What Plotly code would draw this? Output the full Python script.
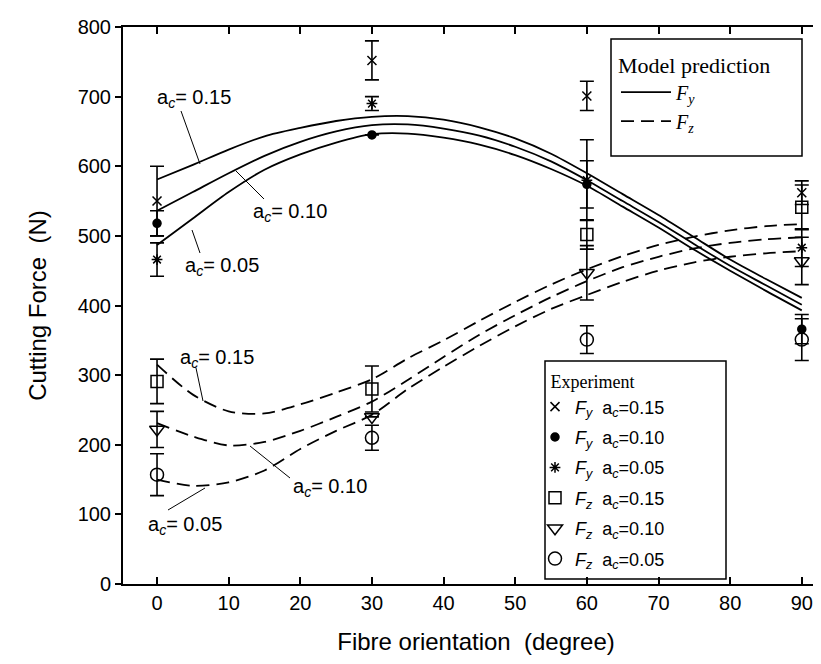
import plotly.graph_objects as go

# ---------------- data ----------------
angle_model = [0, 5, 10, 15, 20, 25, 30, 35, 40, 45, 50, 55, 60, 65, 70, 75, 80, 85, 90]
fy_model_015 = [581, 602, 624, 643, 655, 665, 671, 672, 667, 656, 640, 618, 590, 560, 530, 498, 466, 438, 411]
fy_model_010 = [536, 563, 590, 615, 635, 650, 659, 660, 654, 644, 628, 607, 580, 550, 520, 488, 457, 429, 401]
fy_model_005 = [487, 525, 563, 595, 617, 634, 646, 647, 641, 631, 616, 596, 572, 542, 512, 480, 450, 421, 393]
fz_model_015 = [315, 272, 248, 245, 258, 275, 294, 324, 350, 378, 405, 430, 452, 471, 487, 499, 508, 514, 517]
fz_model_010 = [231, 212, 199, 204, 220, 240, 262, 293, 326, 358, 386, 412, 435, 455, 470, 482, 490, 495, 498]
fz_model_005 = [150, 141, 146, 163, 194, 220, 243, 280, 312, 342, 370, 395, 415, 434, 450, 462, 470, 475, 478]

angle_exp = [0, 30, 60, 90]
fy_exp_015 = [550, 752, 701, 562]
fy_err_015 = [50, 28, 21, 17]
fy_exp_010 = [518, 645, 574, 366]
fy_err_010 = [18, 0, 34, 21]
fy_exp_005 = [466, 690, 580, 483]
fy_err_005 = [24, 10, 58, 27]
fz_exp_015 = [291, 280, 502, 541]
fz_err_015 = [32, 33, 21, 32]
fz_exp_010 = [222, 240, 447, 464]
fz_err_010 = [26, 0, 39, 34]
fz_exp_005 = [157, 210, 351, 351]
fz_err_005 = [30, 18, 20, 30]

x_ticks = [0, 10, 20, 30, 40, 50, 60, 70, 80, 90]
y_ticks = [0, 100, 200, 300, 400, 500, 600, 700, 800]

# ---------------- layout helpers ----------------
W, H = 821, 664
L, R, T, B = 115, 0, 19, 88
PW, PH = W - L - R, H - T - B


def px(xp):
    return (xp - L) / PW


def py(yp):
    return (H - B - yp) / PH


SANS = "Arial, Liberation Sans, Helvetica, sans-serif"
SERIF = "Times New Roman, Liberation Serif, serif"

fig = go.Figure()

# model curves
for name, ys, dash, show in [
    ("<i>F<sub>y</sub></i>", fy_model_015, "solid", True),
    ("Fy010", fy_model_010, "solid", False),
    ("Fy005", fy_model_005, "solid", False),
    ("<i>F<sub>z</sub></i>", fz_model_015, "13px,7px", True),
    ("Fz010", fz_model_010, "13px,7px", False),
    ("Fz005", fz_model_005, "13px,7px", False),
]:
    fig.add_trace(go.Scatter(
        x=angle_model, y=ys, mode="lines", name=name,
        line=dict(color="black", width=1.8, dash=dash, shape="spline", smoothing=0.8),
        showlegend=show, legend="legend", legendgroup=name,
    ))

# experimental points
exp_series = [
    ("<i>F<sub>y</sub></i>  a<sub><i>c</i></sub>=0.15", fy_exp_015, fy_err_015, "x-thin-open", 9),
    ("<i>F<sub>y</sub></i>  a<sub><i>c</i></sub>=0.10", fy_exp_010, fy_err_010, "circle", 8),
    ("<i>F<sub>y</sub></i>  a<sub><i>c</i></sub>=0.05", fy_exp_005, fy_err_005, "asterisk-open", 9),
    ("<i>F<sub>z</sub></i>  a<sub><i>c</i></sub>=0.15", fz_exp_015, fz_err_015, "square-open", 12),
    ("<i>F<sub>z</sub></i>  a<sub><i>c</i></sub>=0.10", fz_exp_010, fz_err_010, "triangle-down-open", 13),
    ("<i>F<sub>z</sub></i>  a<sub><i>c</i></sub>=0.05", fz_exp_005, fz_err_005, "circle-open", 13),
]
for i, (name, ys, err, sym, size) in enumerate(exp_series):
    fig.add_trace(go.Scatter(
        x=angle_exp, y=ys, mode="markers", name=name,
        marker=dict(symbol=sym, size=size, color="black", line=dict(color="black", width=1.5)),
        error_y=dict(type="data", array=err, visible=True, color="black", thickness=1.6, width=7),
        legend="legend2", legendgroup="e%d" % i,
    ))

# a_c labels with leader lines
labels = [
    (147, 90, (173, 103), (192, 156), "a<sub><i>c</i></sub>= 0.15"),
    (243, 204, (228, 163), (256, 191), "a<sub><i>c</i></sub>= 0.10"),
    (175, 258, (184, 222), (192, 245), "a<sub><i>c</i></sub>= 0.05"),
    (170, 350, (188, 360), (195, 393), "a<sub><i>c</i></sub>= 0.15"),
    (283, 480, (242, 438), (282, 470), "a<sub><i>c</i></sub>= 0.10"),
    (138, 517, (160, 502), (197, 480), "a<sub><i>c</i></sub>= 0.05"),
]
annotations = []
shapes = []
for lx, ly, p0, p1, txt in labels:
    annotations.append(dict(
        x=px(lx), y=py(ly), xref="paper", yref="paper", text=txt, showarrow=False,
        xanchor="left", yanchor="middle", font=dict(family=SANS, size=20, color="black"),
    ))
    shapes.append(dict(
        type="line", xref="paper", yref="paper",
        x0=px(p0[0]), y0=py(p0[1]), x1=px(p1[0]), y1=py(p1[1]),
        line=dict(color="black", width=1),
    ))

# legend frames
for x0, y0, x1, y1 in [(603, 31, 794, 148), (537, 353, 718, 571)]:
    shapes.append(dict(
        type="rect", xref="paper", yref="paper",
        x0=px(x0), y0=py(y1), x1=px(x1), y1=py(y0),
        line=dict(color="black", width=1.5), fillcolor="rgba(0,0,0,0)",
    ))

fig.update_layout(
    width=W, height=H,
    margin=dict(l=L, r=R, t=T, b=B, pad=0),
    paper_bgcolor="white", plot_bgcolor="white",
    font=dict(family=SANS, size=20, color="black"),
    showlegend=True,
    annotations=annotations,
    shapes=shapes,
    xaxis=dict(
        range=[-4.75, 93.8], tickvals=x_ticks, ticks="inside", ticklen=7, tickwidth=1.5,
        tickcolor="black", showline=True, linecolor="black", linewidth=2, mirror="ticks",
        showgrid=False, zeroline=False, tickfont=dict(family=SANS, size=20),
        title=dict(text="Fibre orientation  (degree)", font=dict(family=SANS, size=24), standoff=20),
    ),
    yaxis=dict(
        range=[0, 800], tickvals=y_ticks, ticks="outside", ticklen=6, tickwidth=1.5,
        tickcolor="black", showline=True, linecolor="black", linewidth=2,
        showgrid=False, zeroline=False, tickfont=dict(family=SANS, size=20),
        title=dict(text="Cutting Force  (N)", font=dict(family=SANS, size=24), standoff=24),
    ),
    legend=dict(
        x=px(608), y=py(36), xanchor="left", yanchor="top",
        bgcolor="rgba(0,0,0,0)", borderwidth=0,
        font=dict(family=SERIF, size=20, color="black"),
        title=dict(text="Model prediction", font=dict(family=SERIF, size=22)),
        tracegroupgap=0, itemwidth=50,
    ),
    legend2=dict(
        x=px(527), y=py(357), xanchor="left", yanchor="top",
        bgcolor="rgba(0,0,0,0)", borderwidth=0,
        font=dict(family=SANS, size=18, color="black"),
        title=dict(text="&nbsp;&nbsp;&nbsp;Experiment", font=dict(family=SERIF, size=18)),
        tracegroupgap=4, itemwidth=30,
    ),
)

fig.write_html("out.html")
